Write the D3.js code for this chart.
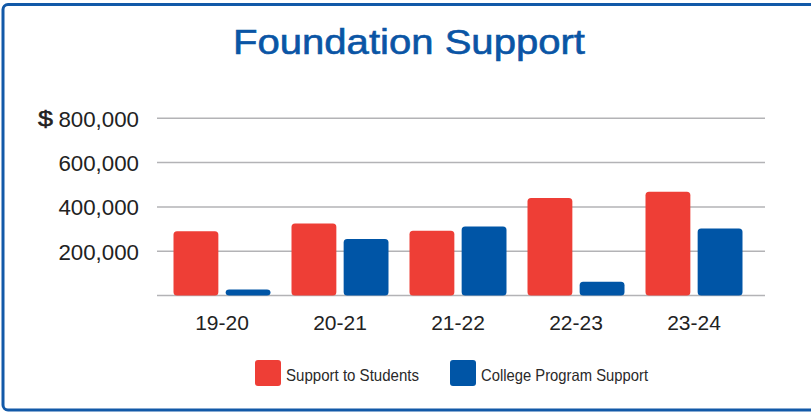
<!DOCTYPE html>
<html>
<head>
<meta charset="utf-8">
<script src="https://cdn.jsdelivr.net/npm/d3@7"></script>
<style>
  html, body { margin: 0; padding: 0; background: #fff; }
  svg { display: block; }
  text { font-family: "Liberation Sans", Arial, Helvetica, sans-serif; }
</style>
</head>
<body>
<div id="chart"></div>
<script>
const categories = ["19-20", "20-21", "21-22", "22-23", "23-24"];
const seriesNames = ["Support to Students", "College Program Support"];
const supportToStudents = [290000, 325000, 292000, 440000, 468000];
const collegeProgramSupport = [27000, 255000, 312000, 62000, 302000];
const yTicks = [200000, 400000, 600000, 800000];
const titleText = "Foundation Support";

const colors = ["#EE3E36", "#0055A6"];
const W = 811, H = 412;

const svg = d3.select("#chart").append("svg")
  .attr("width", W).attr("height", H);

// Frame
svg.append("rect")
  .attr("x", 3).attr("y", 4.5)
  .attr("width", 830).attr("height", 405.5)
  .attr("rx", 5)
  .attr("fill", "none")
  .attr("stroke", "#1259a8")
  .attr("stroke-width", 3);

// Title
svg.append("text")
  .attr("x", 233).attr("y", 54)
  .attr("font-size", 35)
  .attr("textLength", 352)
  .attr("lengthAdjust", "spacingAndGlyphs")
  .attr("fill", "#0A55A5")
  .attr("stroke", "#0A55A5").attr("stroke-width", 0.6)
  .text(titleText);

const y = d3.scaleLinear().domain([0, 800000]).range([295.5, 118.3]);
const x0 = d3.scaleBand().domain(categories).range([163, 753])
  .paddingInner(0.178).paddingOuter(0.089);
const x1 = d3.scaleBand().domain(seriesNames).range([0, x0.bandwidth()])
  .paddingInner(0.14);

const gridX0 = 157, gridX1 = 765;

// Gridlines + baseline
const gridG = svg.append("g");
gridG.selectAll("line").data([0].concat(yTicks)).join("line")
  .attr("x1", gridX0).attr("x2", gridX1)
  .attr("y1", d => y(d)).attr("y2", d => y(d))
  .attr("stroke", "#b3b3b6").attr("stroke-width", 1.5);

// Y labels via axis
const fmt = d3.format(",");
const yAxis = d3.axisLeft(y).tickValues(yTicks).tickFormat(fmt).tickSize(0).tickPadding(0);
const yg = svg.append("g").attr("transform", `translate(139,0)`).call(yAxis);
yg.select(".domain").remove();
yg.selectAll("text")
  .attr("font-size", 22.3)
  .attr("font-family", "'Liberation Sans', Arial, sans-serif")
  .attr("fill", "#222")
  .attr("dy", "0.36em");

// Dollar sign
svg.append("text")
  .attr("x", 38).attr("y", y(800000) + 8)
  .attr("font-size", 22)
  .attr("textLength", 15)
  .attr("lengthAdjust", "spacingAndGlyphs")
  .attr("fill", "#222")
  .attr("stroke", "#222").attr("stroke-width", 0.5)
  .text("$");

// Bars
const data = categories.map((c, i) => ({
  cat: c,
  values: [
    { name: seriesNames[0], v: supportToStudents[i], color: colors[0] },
    { name: seriesNames[1], v: collegeProgramSupport[i], color: colors[1] }
  ]
}));

const groups = svg.append("g").selectAll("g").data(data).join("g")
  .attr("transform", d => `translate(${x0(d.cat)},0)`);
groups.selectAll("rect").data(d => d.values).join("rect")
  .attr("x", d => x1(d.name))
  .attr("width", x1.bandwidth())
  .attr("y", d => y(d.v))
  .attr("height", d => y(0) - y(d.v))
  .attr("rx", 3.5)
  .attr("fill", d => d.color);

// X labels via axis
const xAxis = d3.axisBottom(x0).tickSize(0).tickPadding(0);
const xg = svg.append("g").attr("transform", `translate(0,330)`).call(xAxis);
xg.select(".domain").remove();
xg.selectAll("text")
  .attr("font-size", 21)
  .attr("font-family", "'Liberation Sans', Arial, sans-serif")
  .attr("fill", "#222")
  .attr("dy", 0);

// Legend
const legendItems = [
  { name: seriesNames[0], color: colors[0], x: 255, tx: 286, tl: 133 },
  { name: seriesNames[1], color: colors[1], x: 450, tx: 481, tl: 167 }
];
const lg = svg.append("g");
lg.selectAll("rect").data(legendItems).join("rect")
  .attr("x", d => d.x).attr("y", 360)
  .attr("width", 26).attr("height", 26)
  .attr("rx", 3)
  .attr("fill", d => d.color);
lg.selectAll("text").data(legendItems).join("text")
  .attr("x", d => d.tx).attr("y", 381)
  .attr("font-size", 16.5)
  .attr("textLength", d => d.tl)
  .attr("lengthAdjust", "spacingAndGlyphs")
  .attr("fill", "#2a2a2a")
  .text(d => d.name);
</script>
</body>
</html>
